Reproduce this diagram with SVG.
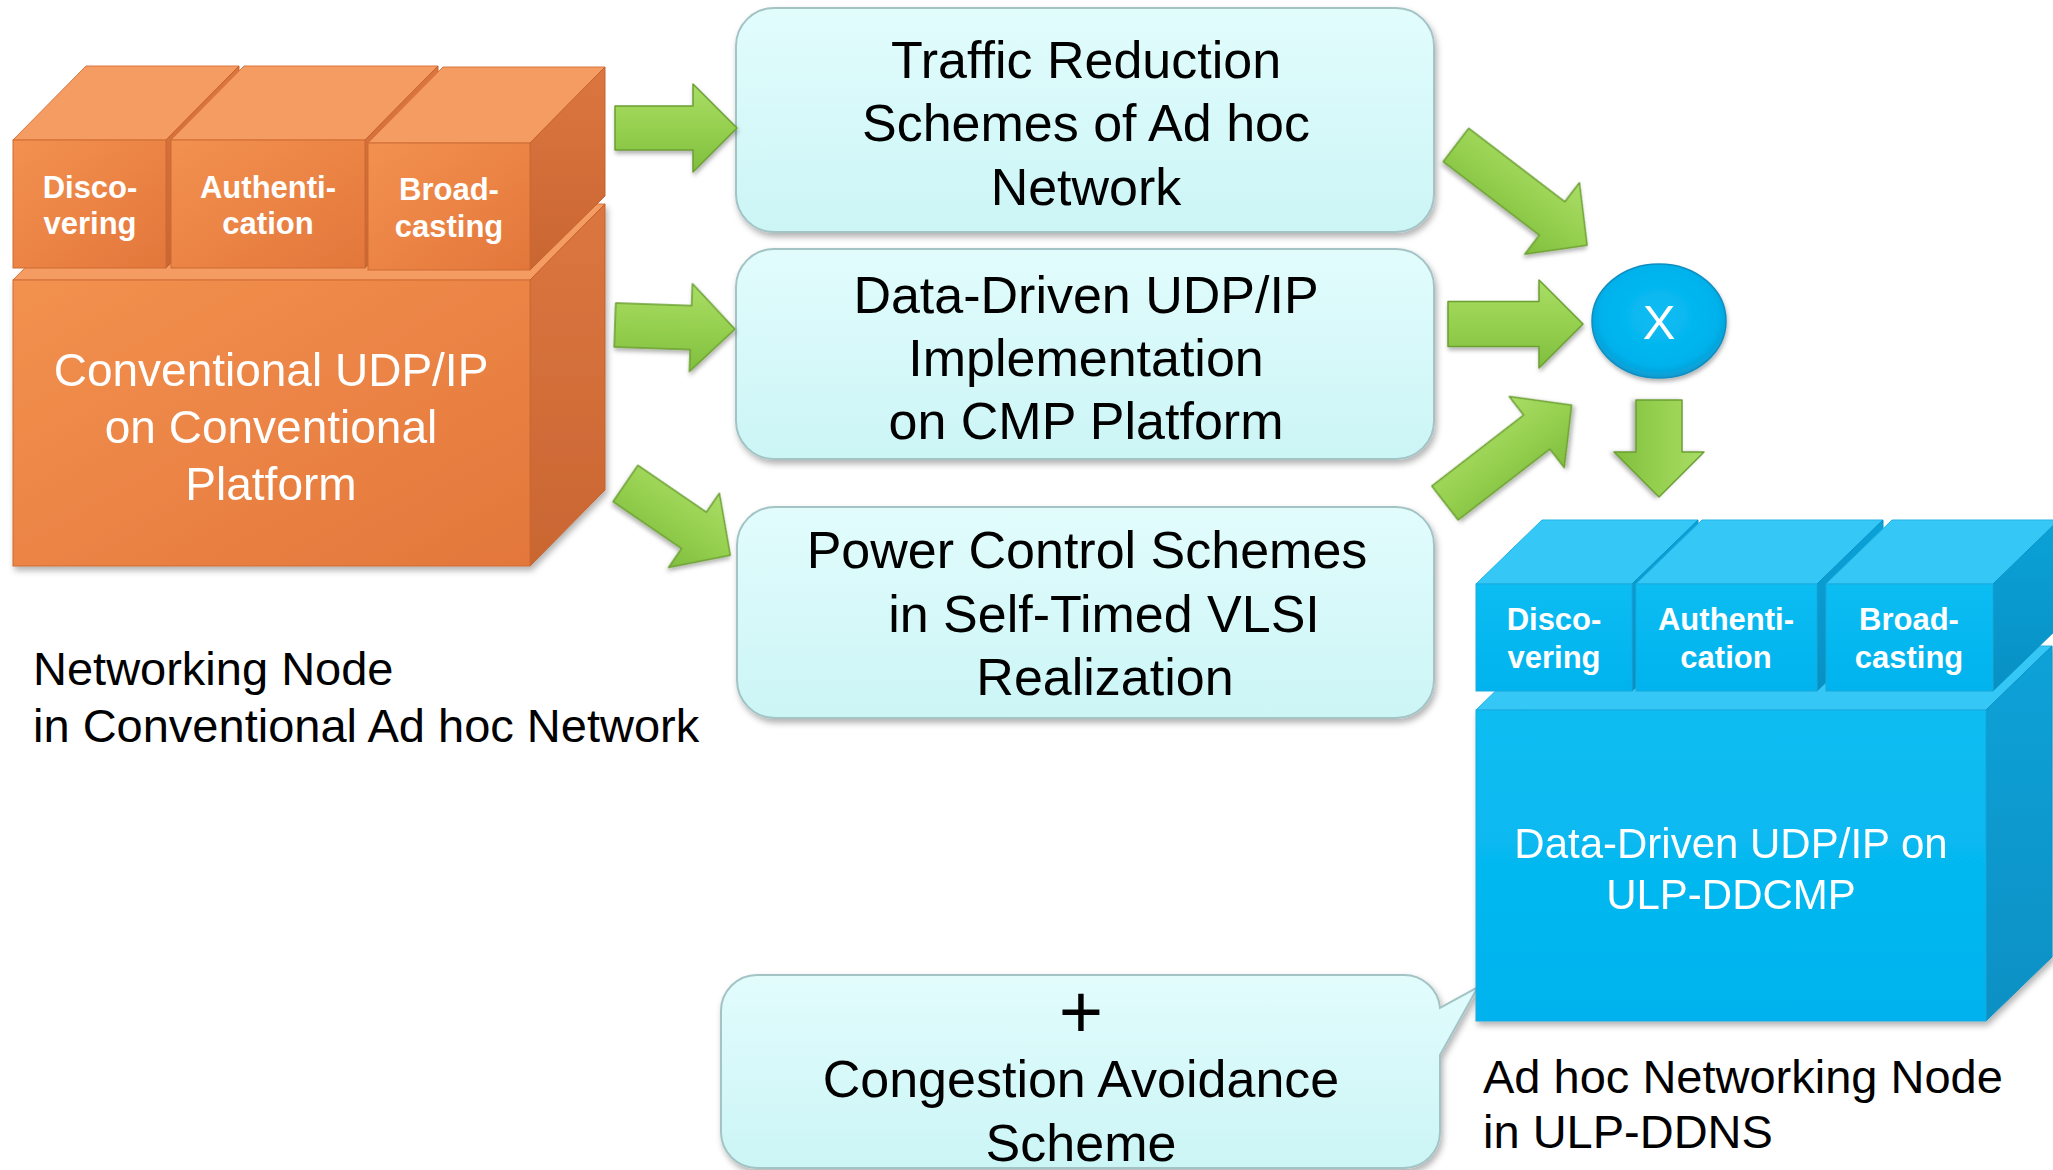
<svg xmlns="http://www.w3.org/2000/svg" width="2053" height="1170" viewBox="0 0 2053 1170">
<defs>
  <linearGradient id="cyanG" x1="0" y1="0" x2="0" y2="1">
    <stop offset="0" stop-color="#E2FCFC"/>
    <stop offset="1" stop-color="#CCF5F6"/>
  </linearGradient>
  <linearGradient id="orFront" x1="0" y1="0" x2="1" y2="1">
    <stop offset="0" stop-color="#F3914F"/>
    <stop offset="1" stop-color="#E3773B"/>
  </linearGradient>
  <linearGradient id="orSide" x1="0" y1="0" x2="0" y2="1">
    <stop offset="0" stop-color="#DC7641"/>
    <stop offset="1" stop-color="#CA6632"/>
  </linearGradient>
  <linearGradient id="blFront" x1="0" y1="0" x2="0" y2="1">
    <stop offset="0" stop-color="#0CBDF2"/>
    <stop offset="1" stop-color="#00B3EE"/>
  </linearGradient>
  <linearGradient id="blSide" x1="0" y1="0" x2="0" y2="1">
    <stop offset="0" stop-color="#0AA2D8"/>
    <stop offset="1" stop-color="#0890C4"/>
  </linearGradient>
  <linearGradient id="grG" x1="0" y1="0" x2="0" y2="1">
    <stop offset="0" stop-color="#A9DD66"/>
    <stop offset="0.5" stop-color="#96D04F"/>
    <stop offset="1" stop-color="#80BE3E"/>
  </linearGradient>
  <radialGradient id="xG" cx="0.5" cy="0.45" r="0.55">
    <stop offset="0" stop-color="#0BBDF3"/>
    <stop offset="0.8" stop-color="#02B2EC"/>
    <stop offset="1" stop-color="#0A9BD2"/>
  </radialGradient>
  <filter id="sh" x="-10%" y="-10%" width="120%" height="130%">
    <feDropShadow dx="2" dy="4" stdDeviation="3" flood-color="#000" flood-opacity="0.3"/>
  </filter>
  <filter id="shA" x="-20%" y="-20%" width="140%" height="140%">
    <feDropShadow dx="1" dy="3" stdDeviation="2" flood-color="#000" flood-opacity="0.3"/>
  </filter>
</defs>
<style>
  .txt { font-family: "Liberation Sans", Arial, sans-serif; }
  .box { fill: url(#cyanG); stroke: #A3C3C5; stroke-width: 2; filter: url(#sh); }
  .bt { font-family: "Liberation Sans", Arial, sans-serif; font-size: 52px; fill: #000; text-anchor: middle; }
  .plus { font-family: "Liberation Sans", Arial, sans-serif; font-size: 76px; fill: #000; text-anchor: middle; }
  .lbl { font-family: "Liberation Sans", Arial, sans-serif; font-size: 47px; fill: #000; }
  .orF { fill: url(#orFront); stroke: #CD6A35; stroke-width: 1; }
  .orT { fill: #F49C62; stroke: #D9773F; stroke-width: 1; }
  .orS { fill: url(#orSide); stroke: #C4622F; stroke-width: 1; }
  .blF { fill: url(#blFront); stroke: #18A9DE; stroke-width: 1; }
  .blT { fill: #35C7F5; stroke: #22B3E6; stroke-width: 1; }
  .blS { fill: url(#blSide); stroke: #0A92C6; stroke-width: 1; }
  .cubeSm { font-family: "Liberation Sans", Arial, sans-serif; font-size: 31px; font-weight: bold; fill: #FFF; text-anchor: middle; }
  .big46 { font-family: "Liberation Sans", Arial, sans-serif; font-size: 46px; fill: #FFF; text-anchor: middle; }
  .big42 { font-family: "Liberation Sans", Arial, sans-serif; font-size: 42px; fill: #FFF; text-anchor: middle; }
  .arr { fill: url(#grG); stroke: #6B9F32; stroke-width: 1.5; stroke-linejoin: round; filter: url(#shA); }
</style>
<rect width="2053" height="1170" fill="#FFFFFF"/>

<!-- Left orange node -->
<g id="node-conventional" filter="url(#sh)">
  <polygon class="orT" points="13,280 530,280 605,204 88,204"/>
  <polygon class="orS" points="530,280 605,204 605,490 530,566"/>
  <rect class="orF" x="13" y="280" width="517" height="286"/>
  <text class="big46" x="271" y="386">Conventional UDP/IP</text>
  <text class="big46" x="271" y="443">on Conventional</text>
  <text class="big46" x="271" y="500">Platform</text>
</g>
<g id="node-conv-discovering">
  <polygon class="orT" points="13,140 166,140 239,66 86,66"/>
  <polygon class="orS" points="166,140 239,66 239,195 166,268"/>
  <rect class="orF" x="13" y="140" width="153" height="128"/>
  <text class="cubeSm" x="90" y="198">Disco-</text>
  <text class="cubeSm" x="90" y="234">vering</text>
</g>
<g id="node-conv-authentication">
  <polygon class="orT" points="171,140 365,140 438,66 244,66"/>
  <polygon class="orS" points="365,140 438,66 438,195 365,268"/>
  <rect class="orF" x="171" y="140" width="194" height="128"/>
  <text class="cubeSm" x="268" y="198">Authenti-</text>
  <text class="cubeSm" x="268" y="234">cation</text>
</g>
<g id="node-conv-broadcasting">
  <polygon class="orT" points="368,143 530,143 605,67 443,67"/>
  <polygon class="orS" points="530,143 605,67 605,196 530,270"/>
  <rect class="orF" x="368" y="143" width="162" height="127"/>
  <text class="cubeSm" x="449" y="200">Broad-</text>
  <text class="cubeSm" x="449" y="237">casting</text>
</g>

<g id="label-conventional">
  <text class="lbl" x="33" y="685">Networking Node</text>
  <text class="lbl" x="33" y="742">in Conventional Ad hoc Network</text>
</g>

<!-- Middle boxes -->
<g id="node-traffic">
  <rect class="box" x="736" y="8" width="698" height="224" rx="38" ry="38"/>
  <text class="bt" x="1086" y="78">Traffic Reduction</text>
  <text class="bt" x="1086" y="141">Schemes of Ad hoc</text>
  <text class="bt" x="1086" y="205">Network</text>
</g>
<g id="node-datadriven">
  <rect class="box" x="736" y="249" width="698" height="210" rx="38" ry="38"/>
  <text class="bt" x="1086" y="313">Data-Driven UDP/IP</text>
  <text class="bt" x="1086" y="376">Implementation</text>
  <text class="bt" x="1086" y="439">on CMP Platform</text>
</g>
<g id="node-power">
  <rect class="box" x="737" y="507" width="697" height="211" rx="38" ry="38"/>
  <text class="bt" x="1087" y="568">Power Control Schemes</text>
  <text class="bt" x="1104" y="632">in Self-Timed VLSI</text>
  <text class="bt" x="1105" y="695">Realization</text>
</g>

<!-- Callout -->
<g id="node-congestion">
  <path class="box" d="M757,975 H1404 A36,36 0 0 1 1440,1008 L1478,987 L1440,1055 V1132 A36,36 0 0 1 1404,1168 H757 A36,36 0 0 1 721,1132 V1011 A36,36 0 0 1 757,975 Z"/>
  <text class="plus" x="1081" y="1038">+</text>
  <text class="bt" x="1081" y="1097">Congestion Avoidance</text>
  <text class="bt" x="1081" y="1161">Scheme</text>
</g>

<!-- Right blue node -->
<g id="node-ulp" filter="url(#sh)">
  <polygon class="blT" points="1476,710 1986,710 2052,646 1542,646"/>
  <polygon class="blS" points="1986,710 2052,646 2052,957 1986,1021"/>
  <rect class="blF" x="1476" y="710" width="510" height="311"/>
  <text class="big42" x="1731" y="858">Data-Driven UDP/IP on</text>
  <text class="big42" x="1731" y="909">ULP-DDCMP</text>
</g>
<g id="node-ulp-discovering">
  <polygon class="blT" points="1476,584 1632,584 1698,520 1542,520"/>
  <polygon class="blS" points="1632,584 1698,520 1698,627 1632,691"/>
  <rect class="blF" x="1476" y="584" width="156" height="107"/>
  <text class="cubeSm" x="1554" y="630">Disco-</text>
  <text class="cubeSm" x="1554" y="668">vering</text>
</g>
<g id="node-ulp-authentication">
  <polygon class="blT" points="1636,584 1817,584 1883,520 1702,520"/>
  <polygon class="blS" points="1817,584 1883,520 1883,627 1817,691"/>
  <rect class="blF" x="1636" y="584" width="181" height="107"/>
  <text class="cubeSm" x="1726" y="630">Authenti-</text>
  <text class="cubeSm" x="1726" y="668">cation</text>
</g>
<g id="node-ulp-broadcasting">
  <polygon class="blT" points="1826,584 1993,584 2059,520 1892,520"/>
  <polygon class="blS" points="1993,584 2059,520 2059,627 1993,691"/>
  <rect class="blF" x="1826" y="584" width="167" height="107"/>
  <text class="cubeSm" x="1909" y="630">Broad-</text>
  <text class="cubeSm" x="1909" y="668">casting</text>
</g>

<g id="label-ulp">
  <text class="lbl" x="1483" y="1093">Ad hoc Networking Node</text>
  <text class="lbl" x="1483" y="1148">in ULP-DDNS</text>
</g>

<!-- X node -->
<g id="node-x">
  <ellipse cx="1659" cy="321" rx="67" ry="57" fill="url(#xG)" stroke="#0B8DC0" stroke-width="1.5" filter="url(#shA)"/>
  <text class="txt" x="1659" y="339" font-size="49" fill="#FFF" text-anchor="middle">X</text>
</g>

<!-- Connectors (block arrows) -->
<g id="connectors">
  <path class="arr" transform="translate(615,128)" d="M0,-22 L78,-22 L78,-44 L122,0 L78,44 L78,22 L0,22 Z"/>
  <path class="arr" transform="translate(615,325) rotate(2)" d="M0,-22 L76,-22 L76,-44 L120,0 L76,44 L76,22 L0,22 Z"/>
  <path class="arr" transform="translate(625.5,483.5) rotate(34.4)" d="M0,-22 L83,-22 L83,-45 L127,0 L83,45 L83,22 L0,22 Z"/>
  <path class="arr" transform="translate(1456,145) rotate(37.4)" d="M0,-21 L121,-21 L121,-45 L165,0 L121,45 L121,21 L0,21 Z"/>
  <path class="arr" transform="translate(1448,324)" d="M0,-22.5 L91,-22.5 L91,-44 L135,0 L91,44 L91,22.5 L0,22.5 Z"/>
  <path class="arr" transform="translate(1445,503) rotate(-37.7)" d="M0,-21.5 L116,-21.5 L116,-45 L160,0 L116,45 L116,21.5 L0,21.5 Z"/>
  <path class="arr" transform="translate(1659,400) rotate(90)" d="M0,-23 L52,-23 L52,-45 L97,0 L52,45 L52,23 L0,23 Z"/>
</g>
</svg>
